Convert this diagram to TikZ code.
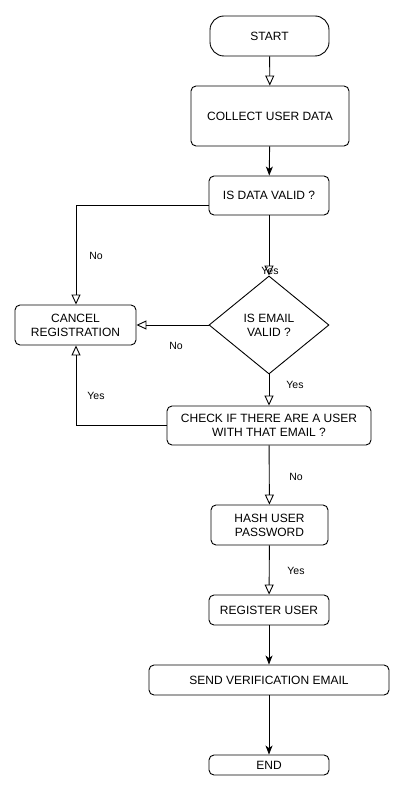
\documentclass[tikz,border=0pt]{standalone}
\usepackage{fontspec}
\setmainfont{Liberation Sans}
\usetikzlibrary{arrows.meta,shapes.geometric}
\begin{document}
\begin{tikzpicture}[x=1pt,y=-1pt,
  box/.style={draw, line width=0.9pt, rounded corners=5pt, align=center, font=\fontsize{12}{14}\selectfont, inner sep=0pt},
  lbl/.style={font=\fontsize{10.5}{12}\selectfont, inner sep=0pt},
  oa/.style={draw, line width=0.9pt, -{Triangle[open,length=10pt,width=9pt]}},
  fa/.style={draw, line width=0.9pt, -{Stealth[length=9pt,width=7pt,inset=2.5pt]}}]
\useasboundingbox (0,0) rectangle (405,791);
\node[box, rounded corners=14pt, minimum width=119pt, minimum height=40pt] (start) at (269.5,36) {START};
\node[box, minimum width=158pt, minimum height=60pt] (collect) at (270,116) {COLLECT USER DATA};
\node[box, minimum width=120pt, minimum height=39pt] (dvalid) at (269,195.5) {IS DATA VALID ?};
\node[draw, line width=0.9pt, diamond, minimum width=120pt, minimum height=98pt, inner sep=0pt, align=center, font=\fontsize{12}{14}\selectfont] (evalid) at (269,325) {IS EMAIL\\VALID ?};
\node[box, minimum width=121pt, minimum height=40pt] (cancel) at (75.5,325) {CANCEL\\REGISTRATION};
\node[box, minimum width=204pt, minimum height=39pt] (check) at (269,425.5) {CHECK IF THERE ARE A USER\\WITH THAT EMAIL ?};
\node[box, minimum width=117pt, minimum height=40pt] (hash) at (269.5,525) {HASH USER\\PASSWORD};
\node[box, minimum width=120pt, minimum height=30pt] (register) at (269,610) {REGISTER USER};
\node[box, minimum width=240pt, minimum height=30pt] (send) at (269,680) {SEND VERIFICATION EMAIL};
\node[box, minimum width=120pt, minimum height=20pt] (endn) at (269,765) {END};

\coordinate (c1) at (76,205);
\coordinate (c2) at (76,425.5);

\draw[oa] (start) -- (collect);
\draw[fa] (collect) -- (dvalid);
\draw[oa] (dvalid.west |- c1) -- (c1) -- (cancel.north -| c1);
\draw[oa] (dvalid) -- (evalid.north);
\draw[oa] (evalid.west) -- (cancel.east);
\draw[oa] (evalid.south) -- (check.north);
\draw[oa] (check.west) -- (c2) -- (cancel.south -| c2);
\draw[oa] (check) -- (hash);
\draw[oa] (hash) -- (register);
\draw[fa] (register) -- (send);
\draw[fa] (send) -- (endn);

\node[lbl] (l1) at (96,256) {No};
\node[lbl] (l2) at (270,271) {Yes};
\node[lbl] (l3) at (176,346) {No};
\node[lbl] (l4) at (295,385) {Yes};
\node[lbl] (l5) at (96,396) {Yes};
\node[lbl] (l6) at (296,477) {No};
\node[lbl] (l7) at (296,571) {Yes};
\end{tikzpicture}
\end{document}
